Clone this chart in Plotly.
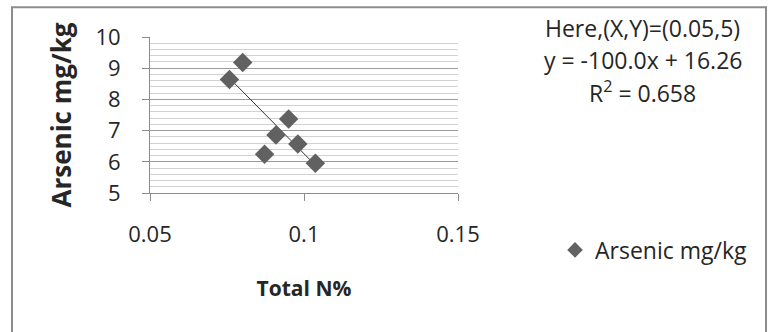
import plotly.graph_objects as go

# Soil samples: total nitrogen vs arsenic concentration
total_n = [0.0758, 0.0801, 0.0950, 0.0909, 0.0980, 0.0872, 0.1037]
arsenic = [8.64, 9.18, 7.37, 6.86, 6.57, 6.24, 5.95]

# Linear trend reported for the series
slope = -100.0
intercept = 16.26
r_squared = 0.658

x_ticks = [0.05, 0.1, 0.15]
x_tick_text = ["0.05", "0.1", "0.15"]
y_ticks = [5, 6, 7, 8, 9, 10]

FONT = "Open Sans"
TXT = "#262626"

trend_x = [min(total_n), max(total_n)]
trend_y = [slope * v + intercept for v in trend_x]

fig = go.Figure()
fig.add_trace(go.Scatter(
    x=trend_x, y=trend_y, mode="lines",
    line=dict(color="#333333", width=1),
    showlegend=False, hoverinfo="skip",
))
fig.add_trace(go.Scatter(
    x=total_n, y=arsenic, mode="markers", name="Arsenic mg/kg",
    marker=dict(symbol="diamond", size=15, color="#616161",
                line=dict(width=0)),
))

# Trendline label block, centred lines: (text, y)
label_lines = [
    ("Here,(X,Y)=(0.05,5)", 1.058),
    (f"y = {slope:.1f}x + {intercept:.2f}", 0.853),
    (f"R<sup>2</sup> = {r_squared:.3f}", 0.647),
]
annotations = [
    dict(xref="paper", yref="paper", x=1.60, y=ly, xanchor="center",
         yanchor="middle", showarrow=False, text=txt,
         font=dict(size=23, family=FONT, color=TXT))
    for txt, ly in label_lines
]

fig.update_layout(
    width=769, height=332,
    margin=dict(l=150, r=311, t=37, b=139),
    paper_bgcolor="white", plot_bgcolor="white",
    font=dict(family=FONT, color=TXT, size=20),
    xaxis=dict(
        range=[0.05, 0.15], tickvals=x_ticks, ticktext=x_tick_text,
        showgrid=False, zeroline=False,
        showline=True, linecolor="#8c8c8c", linewidth=1,
        ticks="outside", ticklen=7, tickcolor="#8c8c8c",
        ticklabelstandoff=15,
        tickfont=dict(size=22, family=FONT, color=TXT),
        title=dict(text="<b>Total N%</b>", standoff=33,
                   font=dict(size=21, family=FONT, color=TXT)),
    ),
    yaxis=dict(
        range=[5, 10], tickvals=y_ticks,
        showgrid=True, gridcolor="#9a9a9a", gridwidth=1,
        minor=dict(dtick=0.2, showgrid=True, gridcolor="#d2d2d2", gridwidth=1),
        zeroline=False,
        showline=True, linecolor="#8c8c8c", linewidth=1,
        ticks="outside", ticklen=7, tickcolor="#8c8c8c",
        ticklabelstandoff=17,
        tickfont=dict(size=22, family=FONT, color=TXT),
        title=dict(text="<b>Arsenic mg/kg</b>", standoff=16,
                   font=dict(size=26, family=FONT, color=TXT)),
    ),
    showlegend=True,
    legend=dict(
        x=1.315, y=-0.365, xanchor="left", yanchor="middle",
        bgcolor="rgba(0,0,0,0)", font=dict(size=23, family=FONT, color=TXT),
        itemsizing="constant",
    ),
    shapes=[dict(
        type="rect", xref="paper", yref="paper",
        x0=-0.448, x1=2.0, y0=-1.0, y1=1.19,
        line=dict(color="#8c8c8c", width=2), fillcolor="rgba(0,0,0,0)",
        layer="below",
    )],
    annotations=annotations,
)

fig.write_html("out.html")
